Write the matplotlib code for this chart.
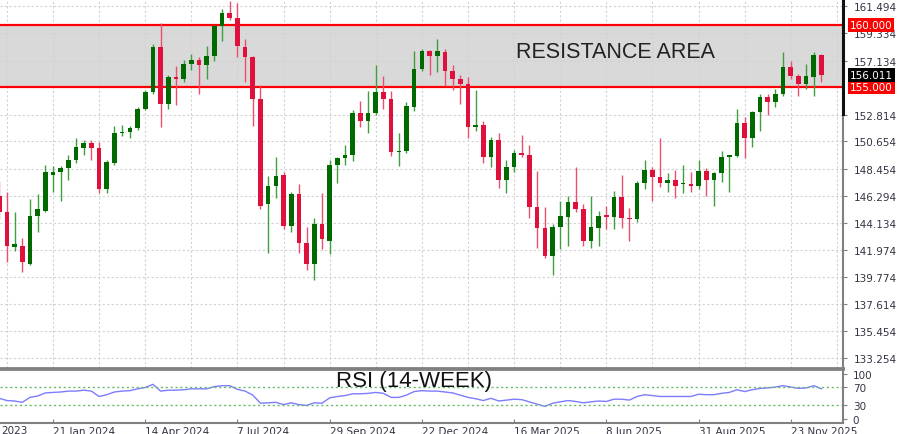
import matplotlib.pyplot as plt
from matplotlib.transforms import blended_transform_factory

# weekly candles, first one is the week of 3 Dec 2023
opens = [146.3, 145.0, 142.2, 142.3, 140.8, 144.7, 145.1, 148.0, 148.2, 148.5,
         149.2, 150.1, 150.5, 150.1, 146.8, 148.9, 151.3, 151.4, 151.7, 153.3,
         154.6, 158.2, 153.7, 155.85, 155.7, 156.9, 157.2, 156.8, 157.5, 159.9,
         161.0, 160.6, 158.2, 157.4, 154.1, 145.6, 147.1, 148.0, 143.9, 146.4,
         142.5, 140.8, 144.0, 142.7, 148.8, 149.3, 149.6, 152.9, 152.3, 152.9,
         154.6, 154.1, 149.8, 149.9, 153.4, 156.5, 157.9, 157.5, 157.8, 156.3,
         155.7, 155.3, 151.8, 152.0, 149.4, 150.8, 147.6, 148.6, 149.7, 149.6,
         145.4, 143.7, 141.5, 143.8, 144.6, 145.8, 145.2, 142.7, 143.7, 144.7,
         144.6, 146.2, 144.5, 144.4, 147.3, 148.4, 147.8, 147.3, 147.6, 147.2,
         147.2, 147.1, 148.3, 147.6, 148.1, 149.4, 149.5, 152.1, 150.9, 153.0,
         154.2, 153.8, 154.5, 156.6, 155.9, 155.3, 155.8, 157.6]
highs = [147.5, 146.6, 145.0, 142.9, 146.0, 146.4, 148.8, 148.7, 148.7, 149.6,
         150.9, 150.8, 150.8, 150.6, 149.2, 151.9, 152.0, 151.9, 153.4, 154.8,
         158.5, 160.2, 156.0, 156.7, 157.2, 157.7, 157.4, 158.3, 160.0, 161.3,
         161.9, 161.8, 158.9, 157.5, 155.2, 147.9, 149.4, 148.2, 146.6, 147.2,
         143.8, 144.5, 146.5, 149.2, 149.4, 150.4, 153.2, 153.9, 154.7, 156.8,
         155.9, 154.7, 151.3, 153.8, 157.9, 158.1, 158.0, 158.9, 158.1, 156.8,
         156.0, 155.8, 154.8, 152.3, 151.0, 151.3, 149.2, 150.0, 151.2, 150.4,
         148.3, 145.4, 144.0, 145.9, 146.3, 148.6, 145.6, 146.3, 145.1, 145.5,
         146.7, 148.0, 145.3, 147.5, 149.2, 148.6, 150.9, 148.1, 148.4, 148.8,
         148.2, 149.2, 148.5, 148.2, 149.9, 149.6, 153.3, 152.6, 153.1, 154.5,
         154.5, 154.9, 157.8, 157.1, 156.1, 156.9, 157.8, 157.7]
lows = [144.4, 141.0, 141.9, 140.2, 140.7, 143.4, 145.0, 146.6, 145.9, 147.6,
        148.9, 149.6, 149.2, 146.5, 146.5, 148.8, 151.1, 150.9, 151.6, 153.2,
        154.5, 151.8, 153.3, 153.6, 155.4, 156.4, 154.5, 155.7, 157.1, 158.7,
        160.4, 157.4, 155.4, 151.9, 145.2, 141.7, 146.1, 143.6, 143.4, 141.7,
        140.3, 139.5, 142.0, 141.6, 147.3, 148.8, 149.1, 151.8, 151.3, 152.8,
        153.3, 149.5, 148.7, 149.7, 153.1, 156.3, 156.0, 156.2, 155.1, 154.8,
        153.7, 150.9, 151.5, 148.9, 148.6, 146.9, 146.5, 148.2, 149.4, 144.5,
        142.1, 141.3, 139.9, 142.0, 142.3, 145.0, 142.3, 142.1, 142.3, 143.6,
        143.6, 143.7, 142.7, 144.2, 146.8, 145.9, 147.0, 146.6, 146.1, 146.5,
        146.6, 146.8, 146.3, 145.5, 147.4, 146.6, 149.4, 149.3, 150.2, 151.5,
        152.8, 153.4, 154.3, 155.7, 154.3, 154.9, 154.3, 155.4]
closes = [145.0, 142.3, 142.4, 141.0, 144.7, 145.2, 148.2, 148.2, 148.5, 149.2,
          150.2, 150.5, 150.1, 146.8, 149.0, 151.3, 151.4, 151.7, 153.3, 154.6,
          158.2, 153.7, 155.8, 155.7, 156.9, 157.2, 156.8, 157.5, 159.9, 161.0,
          160.6, 158.3, 157.4, 154.1, 145.5, 147.1, 147.9, 143.9, 146.4, 142.5,
          140.8, 144.0, 142.8, 148.8, 149.3, 149.6, 152.9, 152.3, 152.9, 154.6,
          154.1, 149.8, 149.9, 153.5, 156.5, 157.9, 157.5, 157.9, 156.3, 155.7,
          155.3, 151.8, 152.0, 149.4, 150.8, 147.6, 148.6, 149.7, 149.6, 145.4,
          143.7, 141.5, 143.8, 144.7, 145.8, 145.2, 142.7, 143.8, 144.7, 144.6,
          146.2, 144.5, 144.4, 147.3, 148.4, 147.8, 147.3, 147.6, 147.1, 147.3,
          147.1, 148.3, 147.6, 148.1, 149.4, 149.6, 152.1, 150.9, 153.0, 154.2,
          153.8, 154.5, 156.6, 155.9, 155.3, 155.9, 157.6, 156.011]
rsi = [46, 41, 40, 37, 48, 51, 58, 59, 60, 62,
       62, 64, 62, 50, 54, 60, 62, 63, 67, 70,
       77, 62, 64, 64, 65, 67, 67, 67, 72, 74,
       74, 66, 62, 53, 35, 36, 37, 32, 36, 32,
       30, 36, 35, 47, 50, 52, 56, 56, 57, 59,
       57, 48, 48, 53, 61, 63, 62, 62, 60, 58,
       53, 48, 45, 41, 46, 40, 42, 44, 43, 38,
       33, 28, 35, 38, 41, 39, 36, 38, 40, 39,
       44, 44, 42, 50, 54, 52, 50, 50, 50, 50,
       50, 55, 54, 54, 57, 59, 65, 61, 65, 68,
       69, 71, 74, 71, 68, 69, 74, 67]

price_ticks = [161.494, 159.334, 157.134, 152.814, 150.654, 148.454, 146.294,
               144.134, 141.974, 139.774, 137.614, 135.454, 133.254]
date_pos = [7, 19, 31, 43, 55, 67, 79, 91, 103]
date_labels = ['21 Jan 2024', '14 Apr 2024', '7 Jul 2024',
               '29 Sep 2024', '22 Dec 2024', '16 Mar 2025', '8 Jun 2025',
               '31 Aug 2025', '23 Nov 2025']
first_label = '2023'
res_low, res_high = 155.0, 160.0
last_price = 156.011

txt_col = '#333344'
axis_col = '#808080'
y0, y1 = 132.47, 162.09

fig = plt.figure(figsize=(9, 4.35), dpi=100)
ax = fig.add_axes([0, 66 / 435, 843 / 900, 369 / 435])
ax2 = fig.add_axes([0, 11 / 435, 843 / 900, 54 / 435])

x = list(range(len(opens)))
up = [c >= o for o, c in zip(opens, closes)]
body_col = ['#006a00' if u else '#e0103c' for u in up]
wick_col = ['#3f9f3f' if u else '#ea4f6e' for u in up]
bottoms = [min(o, c) for o, c in zip(opens, closes)]
heights = [max(abs(c - o), 0.12) for o, c in zip(opens, closes)]

# resistance zone
ax.axhspan(res_low, res_high, color='#d9d9d9', zorder=0.2, lw=0)
ax.axhline(res_high, color='#ff0000', lw=1.6, zorder=1)
ax.axhline(res_low, color='#ff0000', lw=1.6, zorder=1)

ax.vlines(x, lows, highs, colors=wick_col, lw=1, zorder=2)
ax.bar(x, heights, 0.6, bottom=bottoms, color=body_col, lw=0, zorder=3)

ax.set_xlim(0.104, 109.8)
ax.set_ylim(y0, y1)
ax.set_axisbelow(True)
ax.set_xticks(range(1, 110, 6))
ax.set_xticklabels([])
ax.yaxis.tick_right()
ax.set_yticks(price_ticks)
ax.set_yticklabels(['%.3f' % p for p in price_ticks])
ax.tick_params(axis='x', length=0)
ax.tick_params(axis='y', length=3, pad=5, labelsize=7.5, colors=axis_col, labelcolor=txt_col)
ax.grid(True, color='#d2d2d2', ls=(0, (2, 2)), lw=0.8)
for s in ['left', 'top']:
    ax.spines[s].set_visible(False)
ax.spines['right'].set_color(axis_col)
ax.spines['right'].set_linewidth(1.5)
ax.spines['bottom'].set_color(axis_col)
ax.spines['bottom'].set_linewidth(2)
ax.axvline(109.8, ymin=(152.85 - y0) / (y1 - y0), ymax=1, color='#111111', lw=2.2, clip_on=False, zorder=5)

fig.text(615 / 900, 1 - 53 / 435, 'RESISTANCE AREA', fontsize=15.5, family='Liberation Sans',
         color='#222222', ha='center', va='center')

# price labels on the axis
yt = blended_transform_factory(ax.transAxes, ax.transData)
for val, fc in [(res_high, '#ff0000'), (res_low, '#ff0000'), (last_price, '#000000')]:
    ax.text(1.008, val, '%.3f' % val, transform=yt, fontsize=7.5, color='white', ha='left', va='center',
            bbox=dict(boxstyle='square,pad=0.2', fc=fc, ec='none'), zorder=6, clip_on=False)

# RSI panel
ax2.plot(x, rsi, color='#7c7cff', lw=1)
ax2.axhline(70, color='#66bb66', ls=(0, (1.5, 2)), lw=1)
ax2.axhline(30, color='#66bb66', ls=(0, (1.5, 2)), lw=1)
ax2.set_xlim(0.104, 109.8)
ax2.set_ylim(-8.9, 111.1)
ax2.yaxis.tick_right()
ax2.set_yticks([0, 30, 70, 100])
ax2.tick_params(axis='y', length=3, pad=4, labelsize=7.5, colors=axis_col, labelcolor=txt_col)
ax2.set_xticks(date_pos)
ax2.set_xticklabels([])
ax2.tick_params(axis='x', direction='in', length=3, colors=axis_col)
ax2.spines['left'].set_visible(False)
for s in ['top', 'bottom', 'right']:
    ax2.spines[s].set_color(axis_col)
ax2.spines['top'].set_linewidth(2)
ax2.spines['bottom'].set_linewidth(1.5)
ax2.spines['right'].set_linewidth(1.5)

fig.text(414 / 900, 1 - 382 / 435, 'RSI (14-WEEK)', fontsize=16, family='Liberation Sans',
         color='#111111', ha='center', va='center')

xt = blended_transform_factory(ax2.transData, ax2.transAxes)
for p, lab in zip(date_pos, date_labels):
    ax2.text(p, -0.05, lab, transform=xt, fontsize=7.5, color=txt_col, ha='left', va='top', clip_on=False)
fig.text(1 / 900, 1 - 426 / 435, first_label, fontsize=7.5, color=txt_col, ha='left', va='top')

fig.savefig('out.png', dpi=100)
